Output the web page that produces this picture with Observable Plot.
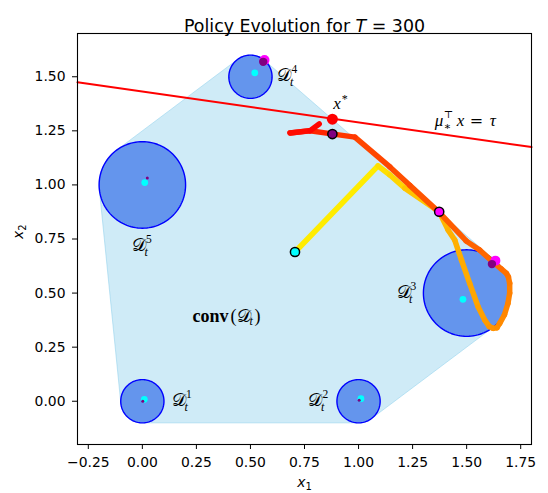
<!DOCTYPE html>
<html><head><meta charset="utf-8">
<script src="https://cdn.jsdelivr.net/npm/d3@7"></script>
<script src="https://cdn.jsdelivr.net/npm/@observablehq/plot@0.6"></script>
<style>body{margin:0;background:#fff}</style>
</head><body><div id="chart"></div>
<script>
// ---------- data ----------
const xDomain = [-0.3, 1.8];
const yDomain = [-0.2, 1.7];
const xTicks = [-0.25, 0, 0.25, 0.5, 0.75, 1, 1.25, 1.5, 1.75];
const yTicks = [0, 0.25, 0.5, 0.75, 1, 1.25, 1.5];

const circleX = [0, 1, 1.5, 0.5, 0];
const circleY = [0, 0, 0.5, 1.5, 1];
const circleR = [0.1, 0.1, 0.2, 0.1, 0.2];
const circleNames = ["1", "2", "3", "4", "5"];

const cyanX = [0.009, 1.011, 1.483, 0.520, 0.011];
const cyanY = [0.009, 0.012, 0.471, 1.518, 1.011];
const purpleX = [0.002, 1.003, 1.617, 0.559, 0.023];
const purpleY = [0.000, 0.004, 0.634, 1.569, 1.032];
const magentaIdx = [2, 3];
const magentaX = [1.633, 0.565];
const magentaY = [0.650, 1.577];

const labelX = [0.137, 0.768, 1.176, 0.625, -0.048];
const labelY = [0.005, 0.005, 0.502, 1.509, 0.722];

const T = 300;
const pathX = [0.706, 1.090, 1.145, 1.214, 1.373, 1.414, 1.445, 1.476, 1.514, 1.553, 1.584, 1.605, 1.622, 1.640, 1.653, 1.675, 1.691, 1.699, 1.699, 1.693, 1.684, 1.660, 1.620, 1.560, 1.498, 1.373, 1.237, 1.145, 0.983, 0.876, 0.776, 0.683, 0.776, 0.818];
const pathY = [0.690, 1.088, 1.046, 0.985, 0.876, 0.792, 0.745, 0.653, 0.545, 0.437, 0.375, 0.345, 0.337, 0.340, 0.360, 0.400, 0.452, 0.500, 0.545, 0.575, 0.591, 0.612, 0.645, 0.699, 0.741, 0.873, 0.998, 1.083, 1.221, 1.236, 1.250, 1.240, 1.251, 1.282];
const pathT = [15, 30, 45, 55, 84, 90, 93, 96, 102, 108, 114, 120, 126, 130, 135, 140, 144, 147, 150, 158, 165, 170, 175, 180, 186, 195, 204, 210, 225, 246, 264, 282, 291, 300];

const startPt = [0.706, 0.690];
const midPt = [1.373, 0.876];
const endPt = [0.879, 1.235];
const xStar = [0.879, 1.304];
const mu = [0.1426, 1];
const tau = 1.4317;

// ---------- derived tables ----------
const circlePts = circleX.flatMap((cx, i) =>
  d3.range(0, 360, 3).map(a => ({
    id: i,
    x: cx + circleR[i] * Math.cos(a * Math.PI / 180),
    y: circleY[i] + circleR[i] * Math.sin(a * Math.PI / 180)
  })));
const hull = d3.polygonHull(circlePts.map(p => [p.x, p.y]));
const muLine = xDomain.map(x => ({x, y: (tau - mu[0] * x) / mu[1]}));
const pathSegs = d3.range(pathX.length - 1).map(i => ({
  x1: pathX[i], y1: pathY[i], x2: pathX[i + 1], y2: pathY[i + 1],
  t: (pathT[i] + pathT[i + 1]) / 2
}));
const idx5 = d3.range(5);
const smallIdx = idx5.filter(i => !magentaIdx.includes(i));

const serif = "Liberation Serif, DejaVu Serif, serif";
const mathD = "\u{1D49F}";
const convX = 0.232, convY = 0.395;
const muX = 1.353, muY = 1.296;

const chart = Plot.plot({
  width: 548, height: 493,
  marginLeft: 77, marginRight: 17, marginTop: 33, marginBottom: 49,
  style: {fontFamily: "DejaVu Sans", fontSize: "13.9px", background: "#fff", color: "#000"},
  x: {domain: xDomain, ticks: xTicks, tickFormat: d3.format(".2f"), tickSize: 5, tickPadding: 8, label: null},
  y: {domain: yDomain, ticks: yTicks, tickFormat: d3.format(".2f"), tickSize: 5, tickPadding: 7, label: null},
  color: {type: "linear", domain: [0, T], range: ["#ffff00", "#ff0000"]},
  marks: [
    Plot.line(hull, {x: d => d[0], y: d => d[1], curve: "linear-closed", fill: "skyblue", fillOpacity: 0.4, stroke: "skyblue", strokeOpacity: 0.5, strokeWidth: 1}),
    Plot.line(circlePts, {x: "x", y: "y", z: "id", curve: "linear-closed", fill: "cornflowerblue", stroke: "blue", strokeWidth: 1.4}),
    Plot.line(muLine, {x: "x", y: "y", stroke: "red", strokeWidth: 2}),
    Plot.link(pathSegs, {x1: "x1", y1: "y1", x2: "x2", y2: "y2", stroke: "t", strokeWidth: 5.5, strokeLinecap: "round"}),
    Plot.dot(idx5, {x: i => cyanX[i], y: i => cyanY[i], r: 3.4, fill: "cyan"}),
    Plot.dot(magentaIdx, {x: (d, j) => magentaX[j], y: (d, j) => magentaY[j], r: 5, fill: "magenta"}),
    Plot.dot(magentaIdx, {x: i => purpleX[i], y: i => purpleY[i], r: 4.2, fill: "purple"}),
    Plot.dot(smallIdx, {x: i => purpleX[i], y: i => purpleY[i], r: 1.5, fill: "purple"}),
    Plot.dot([startPt], {x: d => d[0], y: d => d[1], r: 4.6, fill: "cyan", stroke: "black", strokeWidth: 1.5}),
    Plot.dot([midPt], {x: d => d[0], y: d => d[1], r: 4.6, fill: "magenta", stroke: "black", strokeWidth: 1.5}),
    Plot.dot([endPt], {x: d => d[0], y: d => d[1], r: 4.6, fill: "purple", stroke: "black", strokeWidth: 1.5}),
    Plot.dot([xStar], {x: d => d[0], y: d => d[1], r: 5.5, fill: "red"}),
    // D_t^i labels
    Plot.text(idx5, {x: i => labelX[i], y: i => labelY[i], text: () => mathD, textAnchor: "start", fontFamily: serif, fontSize: 18}),
    Plot.text(idx5, {x: i => labelX[i], y: i => labelY[i], text: () => "t", textAnchor: "start", dx: 12.5, dy: 7, fontFamily: serif, fontStyle: "italic", fontSize: 12}),
    Plot.text(idx5, {x: i => labelX[i], y: i => labelY[i], text: i => circleNames[i], textAnchor: "start", dx: 14, dy: -6, fontFamily: serif, fontSize: 11.5}),
    // x^*
    Plot.text([xStar], {x: d => d[0] + 0.004, y: d => d[1] + 0.071, text: () => "x", textAnchor: "start", fontFamily: serif, fontStyle: "italic", fontSize: 17}),
    Plot.text([xStar], {x: d => d[0] + 0.004, y: d => d[1] + 0.071, text: () => "*", textAnchor: "start", dx: 8.5, dy: -5, fontFamily: serif, fontSize: 12}),
    // mu label
    Plot.text([muX], {x: d => d, y: muY, text: () => "\u03bc", textAnchor: "start", fontFamily: serif, fontStyle: "italic", fontSize: 17}),
    Plot.text([muX], {x: d => d, y: muY, text: () => "\u22a4", textAnchor: "start", dx: 9, dy: -6, fontFamily: "DejaVu Serif", fontSize: 10}),
    Plot.text([muX], {x: d => d, y: muY, text: () => "\u2217", textAnchor: "start", dx: 9, dy: 6, fontFamily: "DejaVu Serif", fontSize: 11}),
    Plot.text([muX], {x: d => d, y: muY, text: () => "x", textAnchor: "start", dx: 22, fontFamily: serif, fontStyle: "italic", fontSize: 17}),
    Plot.text([muX], {x: d => d, y: muY, text: () => "=", textAnchor: "start", dx: 35, fontFamily: "DejaVu Sans", fontSize: 16}),
    Plot.text([muX], {x: d => d, y: muY, text: () => "\u03c4", textAnchor: "start", dx: 55, fontFamily: serif, fontStyle: "italic", fontSize: 17}),
    // conv(D_t)
    Plot.text([convX], {x: d => d, y: convY, text: () => "conv", textAnchor: "start", fontFamily: serif, fontWeight: "bold", fontSize: 18}),
    Plot.text([convX], {x: d => d, y: convY, text: () => "(" + mathD, textAnchor: "start", dx: 38, fontFamily: serif, fontSize: 18}),
    Plot.text([convX], {x: d => d, y: convY, text: () => "t", textAnchor: "start", dx: 57, dy: 5, fontFamily: serif, fontStyle: "italic", fontSize: 12}),
    Plot.text([convX], {x: d => d, y: convY, text: () => ")", textAnchor: "start", dx: 62, fontFamily: serif, fontSize: 18}),
    // axis labels and title
    Plot.text(["x1"], {frameAnchor: "bottom", dy: 42, fontSize: 13.9, fontFamily: "DejaVu Sans"}),
    Plot.text(["x2"], {frameAnchor: "left", dx: -59, rotate: -90, fontSize: 13.9, fontFamily: "DejaVu Sans"}),
    Plot.text(["Policy Evolution for T = 300"], {frameAnchor: "top", dy: -14, fontSize: 17.4, fontFamily: "DejaVu Sans"}),
    Plot.frame({stroke: "black", strokeWidth: 1.1})
  ]
});
document.getElementById("chart").append(chart);

// mixed styling inside a few texts (math italics, subscripts)
d3.select(chart).selectAll("text").each(function() {
  const s = d3.select(this);
  const c = this.textContent;
  if (c === "Policy Evolution for T = 300") {
    this.textContent = "";
    s.append("tspan").text("Policy Evolution for ");
    s.append("tspan").attr("font-style", "italic").text("T");
    s.append("tspan").text(" = 300");
  } else if (c === "x1" || c === "x2") {
    this.textContent = "";
    s.append("tspan").attr("font-style", "italic").text("x");
    s.append("tspan").attr("font-size", "10px").attr("dy", "0.3em").text(c[1]);
  }
});
</script>
</body></html>
